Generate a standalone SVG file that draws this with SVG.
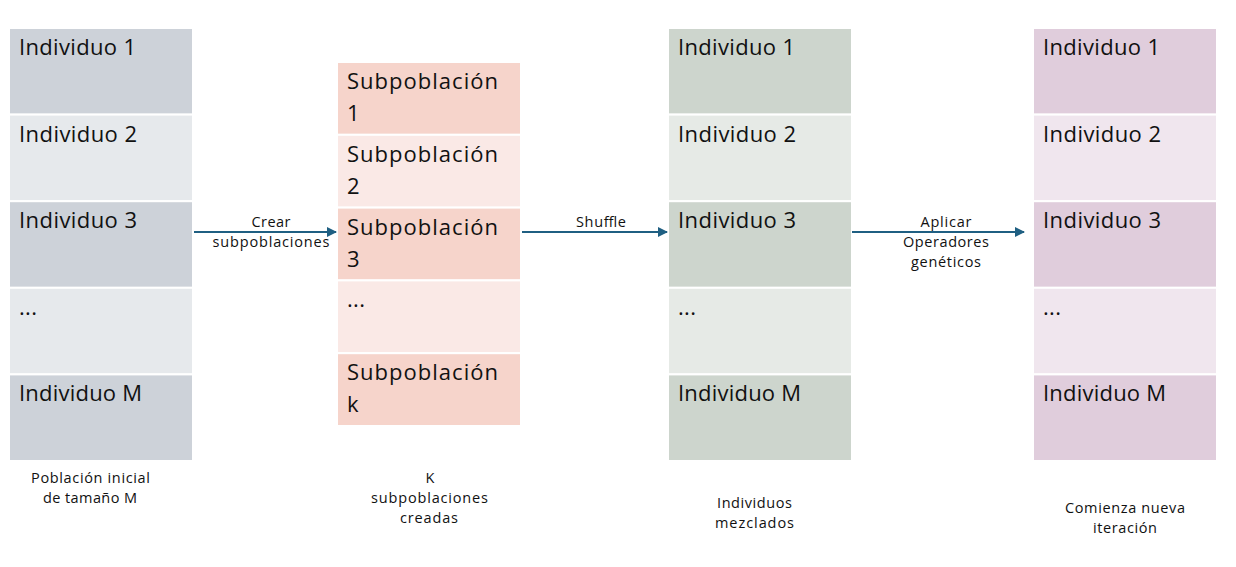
<svg xmlns="http://www.w3.org/2000/svg" width="1236" height="567" viewBox="0 0 1236 567">
<defs>
<style>
.cell{stroke:#ffffff;stroke-width:2}
.g1d{fill:#CDD2D9}.g1l{fill:#E6E9EC}
.g2d{fill:#F6D4CB}.g2l{fill:#FAE9E6}
.g3d{fill:#CDD5CD}.g3l{fill:#E6EAE6}
.g4d{fill:#E0CDDC}.g4l{fill:#F0E6EE}
.big{font-family:"Open Sans","Liberation Sans",sans-serif;font-size:22px;fill:#111111}
.small{font-family:"Open Sans","Liberation Sans",sans-serif;font-size:14.5px;fill:#111111;text-anchor:middle}
.conn{stroke:#1F5F82;stroke-width:2;fill:none;marker-end:url(#ah)}
</style>
<marker id="ah" viewBox="0 0 10 10" refX="9" refY="5" markerWidth="5" markerHeight="5" orient="auto" markerUnits="strokeWidth">
<path d="M0,0 L10,5 L0,10 z" fill="#1F5F82"/>
</marker>
</defs>
<rect width="1236" height="567" fill="#ffffff"/>

<g id="poblacion-inicial">
<rect class="cell g1d" x="9" y="28" width="184" height="86.6"/>
<rect class="cell g1l" x="9" y="114.6" width="184" height="86.6"/>
<rect class="cell g1d" x="9" y="201.2" width="184" height="86.6"/>
<rect class="cell g1l" x="9" y="287.8" width="184" height="86.6"/>
<rect class="cell g1d" x="9" y="374.4" width="184" height="86.6"/>
<text class="big" x="19" y="55" textLength="117" lengthAdjust="spacing">Individuo 1</text>
<text class="big" x="19" y="141.6" textLength="118" lengthAdjust="spacing">Individuo 2</text>
<text class="big" x="19" y="228.2" textLength="118" lengthAdjust="spacing">Individuo 3</text>
<text class="big" x="19" y="314.8" textLength="18" lengthAdjust="spacing">...</text>
<text class="big" x="19" y="401.4" textLength="123" lengthAdjust="spacing">Individuo M</text>
<text class="small" x="90.5" y="483" textLength="119" lengthAdjust="spacing">Población inicial</text>
<text class="small" x="90" y="503" textLength="94" lengthAdjust="spacing">de tamaño M</text>
</g>

<g id="subpoblaciones">
<rect class="cell g2d" x="337" y="62" width="184" height="72.8"/>
<rect class="cell g2l" x="337" y="134.8" width="184" height="72.8"/>
<rect class="cell g2d" x="337" y="207.6" width="184" height="72.8"/>
<rect class="cell g2l" x="337" y="280.4" width="184" height="72.8"/>
<rect class="cell g2d" x="337" y="353.2" width="184" height="72.8"/>
<text class="big" x="347" y="89" textLength="151" lengthAdjust="spacing">Subpoblación</text>
<text class="big" x="347" y="121">1</text>
<text class="big" x="347" y="161.8" textLength="151" lengthAdjust="spacing">Subpoblación</text>
<text class="big" x="347" y="193.8">2</text>
<text class="big" x="347" y="234.6" textLength="151" lengthAdjust="spacing">Subpoblación</text>
<text class="big" x="347" y="266.6">3</text>
<text class="big" x="347" y="307.4" textLength="18" lengthAdjust="spacing">...</text>
<text class="big" x="347" y="380.2" textLength="151" lengthAdjust="spacing">Subpoblación</text>
<text class="big" x="347" y="412.2">k</text>
<text class="small" x="430" y="483">K</text>
<text class="small" x="429.5" y="503" textLength="117" lengthAdjust="spacing">subpoblaciones</text>
<text class="small" x="429" y="523" textLength="58" lengthAdjust="spacing">creadas</text>
</g>

<g id="individuos-mezclados">
<rect class="cell g3d" x="668" y="28" width="184" height="86.6"/>
<rect class="cell g3l" x="668" y="114.6" width="184" height="86.6"/>
<rect class="cell g3d" x="668" y="201.2" width="184" height="86.6"/>
<rect class="cell g3l" x="668" y="287.8" width="184" height="86.6"/>
<rect class="cell g3d" x="668" y="374.4" width="184" height="86.6"/>
<text class="big" x="678" y="55" textLength="117" lengthAdjust="spacing">Individuo 1</text>
<text class="big" x="678" y="141.6" textLength="118" lengthAdjust="spacing">Individuo 2</text>
<text class="big" x="678" y="228.2" textLength="118" lengthAdjust="spacing">Individuo 3</text>
<text class="big" x="678" y="314.8" textLength="18" lengthAdjust="spacing">...</text>
<text class="big" x="678" y="401.4" textLength="123" lengthAdjust="spacing">Individuo M</text>
<text class="small" x="754.5" y="508" textLength="75" lengthAdjust="spacing">Individuos</text>
<text class="small" x="754.5" y="528" textLength="79" lengthAdjust="spacing">mezclados</text>
</g>

<g id="nueva-iteracion">
<rect class="cell g4d" x="1033" y="28" width="184" height="86.6"/>
<rect class="cell g4l" x="1033" y="114.6" width="184" height="86.6"/>
<rect class="cell g4d" x="1033" y="201.2" width="184" height="86.6"/>
<rect class="cell g4l" x="1033" y="287.8" width="184" height="86.6"/>
<rect class="cell g4d" x="1033" y="374.4" width="184" height="86.6"/>
<text class="big" x="1043" y="55" textLength="117" lengthAdjust="spacing">Individuo 1</text>
<text class="big" x="1043" y="141.6" textLength="118" lengthAdjust="spacing">Individuo 2</text>
<text class="big" x="1043" y="228.2" textLength="118" lengthAdjust="spacing">Individuo 3</text>
<text class="big" x="1043" y="314.8" textLength="18" lengthAdjust="spacing">...</text>
<text class="big" x="1043" y="401.4" textLength="123" lengthAdjust="spacing">Individuo M</text>
<text class="small" x="1125" y="513" textLength="120" lengthAdjust="spacing">Comienza nueva</text>
<text class="small" x="1125" y="533" textLength="64" lengthAdjust="spacing">iteración</text>
</g>

<g id="connectors">
<line class="conn" x1="194" y1="232" x2="336" y2="232"/>
<line class="conn" x1="522" y1="232" x2="667" y2="232"/>
<line class="conn" x1="852" y1="232" x2="1024" y2="232"/>
<text class="small" x="271" y="227" textLength="39" lengthAdjust="spacing">Crear</text>
<text class="small" x="271" y="247" textLength="117" lengthAdjust="spacing">subpoblaciones</text>
<text class="small" x="601" y="227" textLength="50" lengthAdjust="spacing">Shuffle</text>
<text class="small" x="946" y="227" textLength="51" lengthAdjust="spacing">Aplicar</text>
<text class="small" x="946" y="247" textLength="86" lengthAdjust="spacing">Operadores</text>
<text class="small" x="946" y="267" textLength="70" lengthAdjust="spacing">genéticos</text>
</g>
</svg>
